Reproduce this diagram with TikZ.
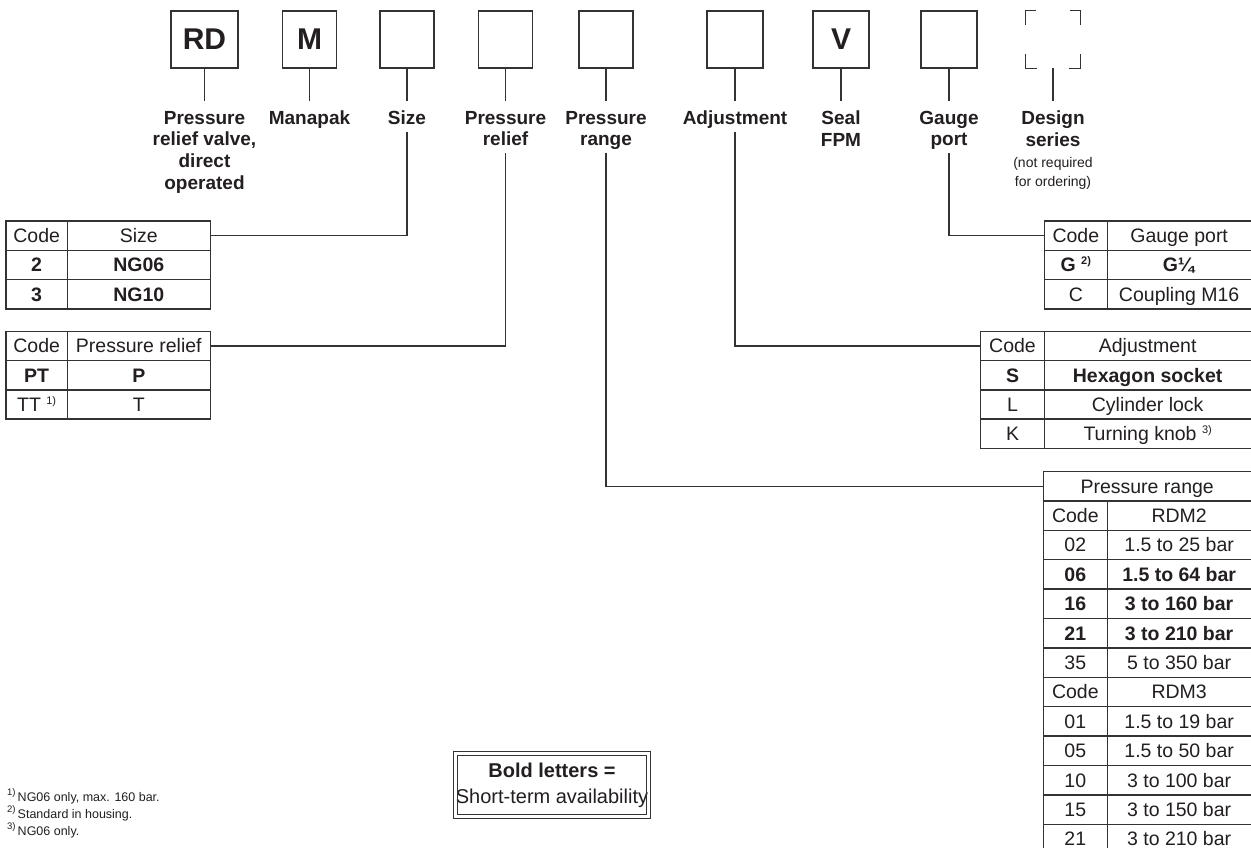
\documentclass[tikz,border=0pt]{standalone}
\usepackage{fontspec}
\setmainfont{Liberation Sans}
\definecolor{ink}{HTML}{231F20}
\definecolor{rule}{HTML}{333333}
\newcommand\supm[1]{\raisebox{7pt}{\fontsize{11}{11}\selectfont #1}}
\newcommand\supf[1]{\raisebox{6pt}{\fontsize{9.5}{9.5}\selectfont #1}}
\newcommand\trow[7]{%
  \node[cell,anchor=base] (#1c) at ({(#2+#3)/2},{#5+21.6}) {#6};
  \node[cell,anchor=base] (#1v) at ({(#3+#4)/2},{#5+21.6}) {#7};}
\tikzset{
  codebox/.style={draw=rule, line width=1.3, minimum width=54, minimum height=57, inner sep=0,
    font=\bfseries\fontsize{30}{30}\selectfont, text=ink},
  lab/.style={inner sep=0, anchor=north, align=center, text depth=5,
    font=\bfseries\fontsize{19}{21.7}\selectfont, text=ink},
  cell/.style={inner sep=0, font=\fontsize{19.5}{22}\selectfont, text=ink},
  conn/.style={draw=rule, line width=1.2},
  tline/.style={draw=rule, line width=1.5},
  foot/.style={inner sep=0, anchor=base west, font=\fontsize{12.5}{15}\selectfont, text=ink},
}
\begin{document}
\begin{tikzpicture}[x=1pt,y=-1pt]
\useasboundingbox[fill=white] (0,0) rectangle (1251,848);

% code boxes
\node[codebox, minimum width=67] (b1) at (204.5,39.5) {RD};
\node[codebox] (b2) at (309.5,39.5) {M};
\node[codebox] (b3) at (407,39.5) {};
\node[codebox] (b4) at (505.5,39.5) {};
\node[codebox] (b5) at (606,39.5) {};
\node[codebox, minimum width=56] (b6) at (735,39.5) {};
\node[codebox, minimum width=56] (b7) at (841,39.5) {V};
\node[codebox, minimum width=56] (b8) at (949,39.5) {};
\node[inner sep=0, minimum width=54, minimum height=57] (b9) at (1053,39.5) {};
\draw[rule, line width=1.3] ([yshift=-14]b9.north west) |- ([xshift=10]b9.north west);
\draw[rule, line width=1.3] ([yshift=-14]b9.north east) |- ([xshift=-10]b9.north east);
\draw[rule, line width=1.3] ([yshift=14]b9.south west) |- ([xshift=11]b9.south west);
\draw[rule, line width=1.3] ([yshift=14]b9.south east) |- ([xshift=-11]b9.south east);

% labels
\node[lab] (l1) at (204.5,110.8) {Pressure\\relief valve,\\direct\\operated};
\node[lab] (l2) at (309.5,110.8) {Manapak};
\node[lab] (l3) at (407,110.8) {Size};
\node[lab] (l4) at (505.5,110.8) {Pressure\\relief};
\node[lab] (l5) at (606,110.8) {Pressure\\range};
\node[lab] (l6) at (735,110.8) {Adjustment};
\node[lab] (l7) at (841,110.8) {Seal\\FPM};
\node[lab] (l8) at (949,110.8) {Gauge\\port};
\node[lab] (l9) at (1053,110.8) {Design\\series};
\node[inner sep=0, anchor=north, align=center, font=\fontsize{14}{19}\selectfont, text=ink]
  (l9b) at ([yshift=-5]l9.south) {(not required\\for ordering)};

\foreach \i in {1,...,9} \draw[conn] (b\i.south) -- ([yshift=10]l\i.north);

% left tables
\draw[tline] (6,221) rectangle (210.3,308.9);
\draw[tline] (67.3,221) -- (67.3,308.9);
\draw[tline] (6,250.3) -- (210.3,250.3) (6,279.6) -- (210.3,279.6);
\trow{sa}{6}{67.3}{210.3}{221}{Code}{Size}
\trow{sb}{6}{67.3}{210.3}{250.3}{\textbf{2}}{\textbf{NG06}}
\trow{sc}{6}{67.3}{210.3}{279.6}{\textbf{3}}{\textbf{NG10}}
\coordinate (sizeT) at (210.3,235.65);

\draw[tline] (6,331.3) rectangle (210.3,419.2);
\draw[tline] (67.3,331.3) -- (67.3,419.2);
\draw[tline] (6,360.6) -- (210.3,360.6) (6,389.9) -- (210.3,389.9);
\trow{ra}{6}{67.3}{210.3}{331.3}{Code}{Pressure relief}
\trow{rb}{6}{67.3}{210.3}{360.6}{\textbf{PT}}{\textbf{P}}
\trow{rc}{6}{67.3}{210.3}{389.9}{TT \supm{1)}}{T}
\coordinate (reliefT) at (210.3,345.95);

% gauge port table
\draw[tline] (1251,221) -| (1044.3,308.9) -- (1251,308.9);
\draw[tline] (1107.3,221) -- (1107.3,308.9);
\draw[tline] (1044.3,250.3) -- (1251,250.3) (1044.3,279.6) -- (1251,279.6);
\trow{ga}{1044.3}{1107.3}{1251}{221}{Code}{Gauge port}
\trow{gb}{1044.3}{1107.3}{1251}{250.3}{\textbf{G \supm{2)}}}{\textbf{G¼}}
\trow{gc}{1044.3}{1107.3}{1251}{279.6}{C}{Coupling M16}
\coordinate (gaugeT) at (1044.3,235.65);

% adjustment table
\draw[tline] (1251,331.3) -| (980.7,448.5) -- (1251,448.5);
\draw[tline] (1044.3,331.3) -- (1044.3,448.5);
\draw[tline] (980.7,360.6) -- (1251,360.6) (980.7,389.9) -- (1251,389.9) (980.7,419.2) -- (1251,419.2);
\trow{aa}{980.7}{1044.3}{1251}{331.3}{Code}{Adjustment}
\trow{ab}{980.7}{1044.3}{1251}{360.6}{\textbf{S}}{\textbf{Hexagon socket}}
\trow{ac}{980.7}{1044.3}{1251}{389.9}{L}{Cylinder lock}
\trow{ad}{980.7}{1044.3}{1251}{419.2}{K}{Turning knob \supm{3)}}
\coordinate (adjT) at (980.7,345.95);

% pressure range table
\draw[tline] (1251,471.5) -| (1043.3,848);
\draw[tline] (1107.3,500.9) -- (1107.3,848);
\foreach \k in {1,...,12} \draw[tline] (1043.3,{471.5+29.4*\k}) -- (1251,{471.5+29.4*\k});
\node[cell,anchor=base] (ph) at ({(1043.3+1251)/2},{471.5+21.6}) {Pressure range};
\trow{p1}{1043.3}{1107.3}{1251}{500.9}{Code}{RDM2}
\trow{p2}{1043.3}{1107.3}{1251}{530.3}{02}{1.5 to 25 bar}
\trow{p3}{1043.3}{1107.3}{1251}{559.7}{\textbf{06}}{\textbf{1.5 to 64 bar}}
\trow{p4}{1043.3}{1107.3}{1251}{589.1}{\textbf{16}}{\textbf{3 to 160 bar}}
\trow{p5}{1043.3}{1107.3}{1251}{618.5}{\textbf{21}}{\textbf{3 to 210 bar}}
\trow{p6}{1043.3}{1107.3}{1251}{647.9}{35}{5 to 350 bar}
\trow{p7}{1043.3}{1107.3}{1251}{677.3}{Code}{RDM3}
\trow{p8}{1043.3}{1107.3}{1251}{706.7}{01}{1.5 to 19 bar}
\trow{p9}{1043.3}{1107.3}{1251}{736.1}{05}{1.5 to 50 bar}
\trow{p10}{1043.3}{1107.3}{1251}{765.5}{10}{3 to 100 bar}
\trow{p11}{1043.3}{1107.3}{1251}{794.9}{15}{3 to 150 bar}
\trow{p12}{1043.3}{1107.3}{1251}{824.3}{21}{3 to 210 bar}
\coordinate (rangeT) at (1043.3,486.2);

% connectors
\draw[conn] ([yshift=-2]l3.south) |- (sizeT);
\draw[conn] ([yshift=-2]l4.south) |- (reliefT);
\draw[conn] ([yshift=-2]l5.south) |- (rangeT);
\draw[conn] ([yshift=-2]l6.south) |- (adjT);
\draw[conn] ([yshift=-2]l8.south) |- (gaugeT);

% legend
\node[minimum width=196, minimum height=66, inner sep=0, align=center,
  font=\fontsize{20}{26}\selectfont, text=ink] (legend) at (552,785)
  {\textbf{Bold letters =}\\Short-term availability};
\draw[rule, line width=1] (legend.north west) rectangle (legend.south east);
\draw[rule, line width=1] ([xshift=3.5,yshift=-3.5]legend.north west)
  rectangle ([xshift=-3.5,yshift=3.5]legend.south east);

% footnotes
\node[foot] (f1) at (7,801) {\supf{1)}\,NG06 only, max. 160 bar.};
\node[foot] (f2) at (7,818) {\supf{2)}\,Standard in housing.};
\node[foot] (f3) at (7,835) {\supf{3)}\,NG06 only.};
\end{tikzpicture}
\end{document}
